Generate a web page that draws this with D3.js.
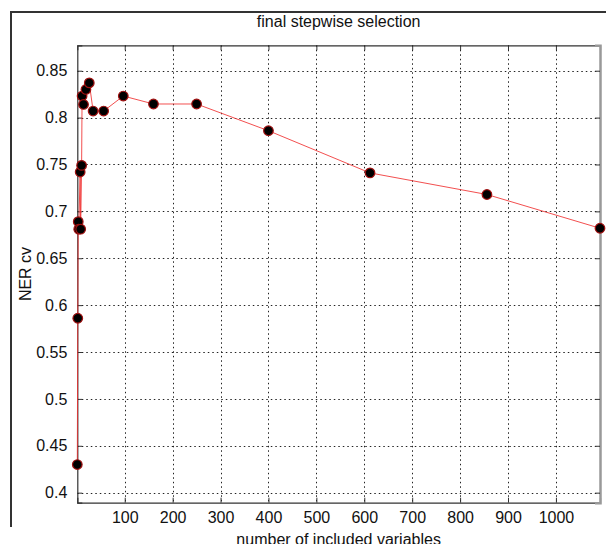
<!DOCTYPE html>
<html><head><meta charset="utf-8">
<script src="https://cdn.jsdelivr.net/npm/d3@7"></script>
<style>body{margin:0;background:#fff}svg{display:block}text{font-family:"Liberation Sans",Arial,sans-serif;fill:#111}</style>
</head><body><svg id="c" width="606" height="544"></svg>
<script>
const nVars = [1,2,3,4,8,7,10,11,14,19,26,34,56,97,160,250,400,612,856,1092];
const nerCv = [0.430,0.586,0.689,0.681,0.681,0.742,0.749,0.823,0.814,0.830,0.837,0.807,0.807,0.823,0.8145,0.8145,0.786,0.741,0.718,0.682];
const xTicks = [100,200,300,400,500,600,700,800,900,1000];
const yTicks = [0.4,0.45,0.5,0.55,0.6,0.65,0.7,0.75,0.8,0.85];
const titleText = "final stepwise selection";
const xLabel = "number of included variables";
const yLabel = "NER cv";

const svg = d3.select("#c");
const L=77.3, R=600, T=45.3, B=502.7;
const x = d3.scaleLinear().domain([1,1092]).range([L,R]);
const y = d3.scaleLinear().domain([0.3893,0.8771]).range([B,T]);
const FS = "16px";

// figure frame
svg.append("line").attr("x1",11).attr("x2",11).attr("y1",11).attr("y2",527).attr("stroke","#333").attr("stroke-width",2);
svg.append("line").attr("x1",10).attr("x2",606).attr("y1",12).attr("y2",12).attr("stroke","#333").attr("stroke-width",2);

// grid
const g = svg.append("g");
g.selectAll(".gx").data(xTicks).join("line")
 .attr("x1",d=>Math.round(x(d))+0.5).attr("x2",d=>Math.round(x(d))+0.5).attr("y1",T).attr("y2",B)
 .attr("stroke","#222").attr("stroke-width",1).attr("stroke-dasharray","1.5,3");
g.selectAll(".gy").data(yTicks).join("line")
 .attr("y1",d=>Math.round(y(d))+0.5).attr("y2",d=>Math.round(y(d))+0.5).attr("x1",L).attr("x2",R)
 .attr("stroke","#222").attr("stroke-width",1).attr("stroke-dasharray","1.5,3");

// axes
const xa = svg.append("g").attr("transform",`translate(0,${B})`)
 .call(d3.axisBottom(x).tickValues(xTicks).tickSize(-5).tickPadding(9).tickFormat(d3.format("d")));
const xt = svg.append("g").attr("transform",`translate(0,${T})`)
 .call(d3.axisTop(x).tickValues(xTicks).tickSize(-5).tickFormat(""));
const ya = svg.append("g").attr("transform",`translate(${L},0)`)
 .call(d3.axisLeft(y).tickValues(yTicks).tickSize(-5).tickPadding(10).tickFormat(d=>String(d)));
const yr = svg.append("g").attr("transform",`translate(${R},0)`)
 .call(d3.axisRight(y).tickValues(yTicks).tickSize(-5).tickFormat(""));
[xa,xt,ya,yr].forEach(a=>{
  a.selectAll("path").attr("stroke","#333").attr("stroke-width",1.2);
  a.selectAll("line").attr("stroke","#333");
  a.selectAll("text").attr("font-size",FS).attr("fill","#111").attr("font-family","Liberation Sans, Arial, sans-serif");
});
yr.select("path").attr("stroke","#999").attr("stroke-width",2.5);

// line
const pts = nVars.map((v,i)=>({x:v,y:nerCv[i]})).sort((a,b)=>a.x-b.x);
svg.append("path").datum(pts)
 .attr("d",d3.line().x(d=>x(d.x)).y(d=>y(d.y)))
 .attr("fill","none").attr("stroke","#f03030").attr("stroke-width",1).attr("opacity",0.85);

// markers
svg.selectAll(".pt").data(pts).join("circle")
 .attr("cx",d=>x(d.x)).attr("cy",d=>y(d.y)).attr("r",4.8)
 .attr("fill","#000").attr("stroke","#a01010").attr("stroke-width",1.2);

// labels
svg.append("text").attr("x",(L+R)/2).attr("y",27).attr("text-anchor","middle").attr("font-size",FS).text(titleText);
svg.append("text").attr("x",(L+R)/2).attr("y",545).attr("text-anchor","middle").attr("font-size",FS).text(xLabel);
svg.append("text").attr("transform",`translate(31,${(T+B)/2}) rotate(-90)`).attr("text-anchor","middle").attr("font-size",FS).text(yLabel);
</script></body></html>
